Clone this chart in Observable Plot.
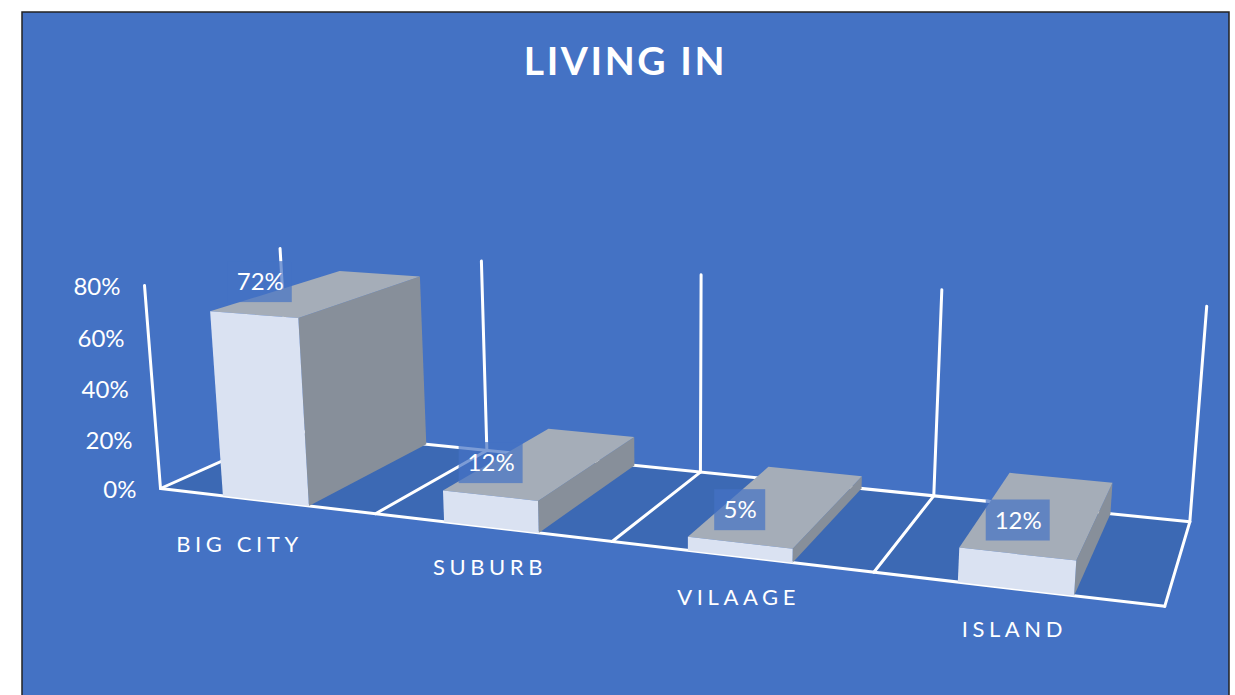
<!DOCTYPE html>
<html>
<head>
<meta charset="utf-8">
<script src="https://cdn.jsdelivr.net/npm/d3@7"></script>
<script src="https://cdn.jsdelivr.net/npm/@observablehq/plot@0.6"></script>
<style>
  html, body { margin: 0; padding: 0; background: #fff; overflow: hidden; }
  svg { display: block; }
  .cat-label text { letter-spacing: 4.6px; }
  .chart-title text { letter-spacing: 2.6px; }
</style>
</head>
<body>
<div id="chart"></div>
<script>
// ---- chart data ----
const chartTitle = "LIVING IN";
const categories = ["BIG CITY", "SUBURB", "VILAAGE", "ISLAND"];
const shares = [0.72, 0.12, 0.05, 0.12];
const shareTicks = [0, 0.2, 0.4, 0.6, 0.8];
const shareMax = 0.8;

// ---- colours ----
const panelColor = "#4472C4", floorColor = "#3C69B4", lineColor = "#FFFFFF";
const frontColor = "#DAE2F2", topColor = "#A5ADB8", sideColor = "#878F9A";

// ---- oblique camera: (slot, depth, share) -> picture position ----
function project(u, d, h) {
  const w = 1 - 0.04566 * u + 0.122 * d - 0.0375 * h;
  return [
    (160 + 197.9 * u + 165.6 * d - 25.4 * h) / w,
    (488 + 1.8 * u - 5.5 * d - 264.5 * h) / w
  ];
}
const px = (u, d, h) => project(u, d, h)[0];
const py = (u, d, h) => project(u, d, h)[1];

const barInset = 0.3;

function face(id, corners) {
  return corners.map(([u, d, h]) => ({id, x: px(u, d, h), y: py(u, d, h)}));
}
const fronts = [], tops = [], sides = [];
shares.forEach((v, i) => {
  const a = i + barInset, b = i + 1 - barInset;
  fronts.push(...face(i, [[a,0,0],[b,0,0],[b,0,v],[a,0,v]]));
  tops.push(...face(i, [[a,0,v],[b,0,v],[b,1,v],[a,1,v]]));
  sides.push(...face(i, [[b,0,0],[b,1,0],[b,1,v],[b,0,v]]));
});
const n = categories.length;
const floor = face(0, [[0,0,0],[n,0,0],[n,1,0],[0,1,0]]);

// axis frame lines
const segments = [];
const seg = (p, q) => {
  const [x1, y1] = project(...p), [x2, y2] = project(...q);
  segments.push({x1, y1, x2, y2});
};
seg([0,0,0],[n,0,0]);
seg([0,1,0],[n,1,0]);
seg([0,0,0],[0,0,shareMax]);
d3.range(n + 1).forEach(i => {
  seg([i,0,0],[i,1,0]);
  seg([i,1,0],[i,1,shareMax]);
});

// labels
const valueLabels = shares.map((v, i) => {
  const [ax, ay] = project(i + 0.5, 0, v);
  const text = d3.format(".0%")(v);
  const cx = ax + 9 * v, cy = ay - 33 - (i === 3 ? 1 : 0);
  const half = (25 + 13 * text.length) / 2;
  return {text, cx, cy, x1: cx - half, x2: cx + half, y1: cy - 20, y2: cy + 21};
});
const catLabels = categories.map((name, i) => {
  const [ax, ay] = project(i + 0.5, 0, 0);
  return {name, x: ax - 1 - (i === 0 ? 25 : 0), y: ay + 41 + (i === 0 ? 3 : 0)};
});
const tickLabels = shareTicks.map(t => {
  const [ax, ay] = project(0, 0, t);
  return {text: d3.format(".0%")(t), x: ax - 24, y: ay + 2};
});

const faceOpts = fill => ({x: "x", y: "y", z: "id", fill, stroke: "none", curve: "linear-closed"});
const font = "Lato, 'Open Sans', sans-serif";

const chart = Plot.plot({
  width: 1235,
  height: 695,
  margin: 0,
  style: {background: "#fff", fontFamily: font},
  x: {domain: [0, 1235], range: [0, 1235], axis: null},
  y: {domain: [0, 695], range: [0, 695], axis: null},
  marks: [
    // panel
    Plot.rect([{x1: 22, x2: 1229, y1: 12, y2: 705}], {
      x1: "x1", x2: "x2", y1: "y1", y2: "y2",
      fill: panelColor, stroke: "#222", strokeWidth: 1.5, clip: true
    }),
    Plot.text([chartTitle], {
      x: () => 625, y: () => 62, text: d => d,
      fill: "#fff", fontSize: 39, fontWeight: 700, className: "chart-title"
    }),
    // floor, frame
    Plot.line(floor, faceOpts(floorColor)),
    Plot.link(segments, {
      x1: "x1", y1: "y1", x2: "x2", y2: "y2",
      stroke: lineColor, strokeWidth: 3, strokeLinecap: "round"
    }),
    // bars
    Plot.line(sides, faceOpts(sideColor)),
    Plot.line(tops, faceOpts(topColor)),
    Plot.line(fronts, faceOpts(frontColor)),
    // value labels
    Plot.rect(valueLabels, {
      x1: "x1", x2: "x2", y1: "y1", y2: "y2",
      fill: panelColor, fillOpacity: 0.7
    }),
    Plot.text(valueLabels, {
      x: "cx", y: "cy", dy: 1, text: "text", fill: "#fff", fontSize: 24
    }),
    // axes
    Plot.text(tickLabels, {
      x: "x", y: "y", text: "text", fill: "#fff", fontSize: 24, textAnchor: "end"
    }),
    Plot.text(catLabels, {
      x: "x", y: "y", text: "name", fill: "#fff", fontSize: 22, className: "cat-label"
    })
  ]
});
document.getElementById("chart").append(chart);
</script>
</body>
</html>
